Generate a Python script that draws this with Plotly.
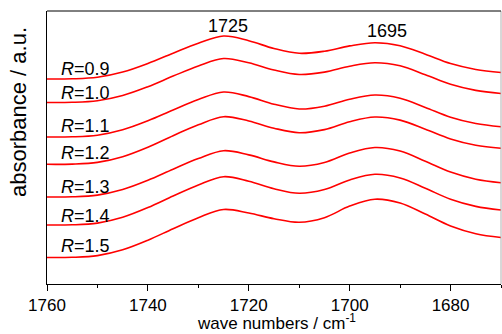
import plotly.graph_objects as go

wavenumbers = [1760, 1755, 1750, 1745, 1740, 1735, 1730, 1725, 1720, 1715,
               1710, 1705, 1700, 1695, 1690, 1685, 1680, 1675, 1670]

r_labels = ["0.9", "1.0", "1.1", "1.2", "1.3", "1.4", "1.5"]

abs_r09 = [2.05, 2.052, 2.067, 2.119, 2.205, 2.308, 2.407, 2.48, 2.433, 2.355,
           2.307, 2.328, 2.381, 2.413, 2.383, 2.297, 2.204, 2.145, 2.115]
abs_r10 = [1.815, 1.817, 1.833, 1.885, 1.973, 2.079, 2.180, 2.255, 2.212, 2.140,
           2.095, 2.119, 2.178, 2.213, 2.182, 2.093, 1.997, 1.936, 1.905]
abs_r11 = [1.47, 1.472, 1.488, 1.542, 1.632, 1.74, 1.844, 1.92, 1.874, 1.798,
           1.75, 1.778, 1.848, 1.89, 1.858, 1.766, 1.668, 1.605, 1.573]
abs_r12 = [1.197, 1.199, 1.216, 1.273, 1.368, 1.483, 1.592, 1.673, 1.630, 1.558,
           1.513, 1.544, 1.623, 1.67, 1.639, 1.548, 1.451, 1.388, 1.357]
abs_r13 = [0.87, 0.872, 0.889, 0.944, 1.037, 1.148, 1.254, 1.333, 1.291, 1.221,
           1.177, 1.215, 1.309, 1.365, 1.330, 1.228, 1.119, 1.048, 1.013]
abs_r14 = [0.59, 0.592, 0.609, 0.667, 0.764, 0.88, 0.991, 1.073, 1.028, 0.953,
           0.907, 0.945, 1.04, 1.097, 1.061, 0.958, 0.847, 0.776, 0.74]
abs_r15 = [0.265, 0.267, 0.284, 0.342, 0.438, 0.553, 0.663, 0.745, 0.710, 0.653,
           0.617, 0.663, 0.779, 0.848, 0.810, 0.699, 0.580, 0.503, 0.465]

series = [abs_r09, abs_r10, abs_r11, abs_r12, abs_r13, abs_r14, abs_r15]

peak_labels = ["1725", "1695"]
peak_positions = [1724.1, 1692.6]

x_ticks = [1760, 1740, 1720, 1700, 1680]

# label placement (layout, not data)
label_x = 1757.6
label_y = [2.152, 1.91, 1.585, 1.312, 0.968, 0.685, 0.377]
peak_label_y = [2.585, 2.53]

FONT = "Liberation Sans, Arial, sans-serif"

fig = go.Figure()
for ys in series:
    fig.add_trace(go.Scatter(
        x=wavenumbers, y=ys, mode="lines",
        line=dict(color="rgb(255,0,0)", width=1.6, shape="spline", smoothing=1.0),
        showlegend=False, hoverinfo="skip"))

annotations = []
for lab, ly in zip(r_labels, label_y):
    annotations.append(dict(
        x=label_x, y=ly, xref="x", yref="y", xanchor="left", yanchor="middle",
        text="<i>R</i>=" + lab, showarrow=False,
        font=dict(family=FONT, size=18, color="black")))
for lab, px, py in zip(peak_labels, peak_positions, peak_label_y):
    annotations.append(dict(
        x=px, y=py, xref="x", yref="y", xanchor="center", yanchor="middle",
        text=lab, showarrow=False,
        font=dict(family=FONT, size=18, color="black")))
annotations.append(dict(
    x=-29 / 454, y=0.63, xref="paper", yref="paper",
    xanchor="center", yanchor="middle", textangle=-90,
    text="absorbance / a.u.", showarrow=False,
    font=dict(family=FONT, size=22, color="black")))
# x-axis title
annotations.append(dict(
    x=0.505, y=-50 / 273, xref="paper", yref="paper",
    xanchor="center", yanchor="bottom", yshift=-1,
    text="wave numbers / cm<sup>-1</sup>", showarrow=False,
    font=dict(family=FONT, size=17, color="black")))

fig.update_layout(
    width=502, height=334,
    margin=dict(l=47, r=1, t=11, b=50),
    paper_bgcolor="white", plot_bgcolor="white",
    font=dict(family=FONT, size=17, color="black"),
    annotations=annotations,
    shapes=[dict(type="line", xref="paper", yref="paper", x0=1, x1=1, y0=0, y1=1,
                 line=dict(color="#b0b0b0", width=1)),
            dict(type="line", xref="paper", yref="paper", x0=0, x1=1, y0=1, y1=1,
                 line=dict(color="black", width=1))],
    xaxis=dict(
        range=[1760, 1670], tickmode="array", tickvals=x_ticks,
        ticks="outside", ticklen=6, tickwidth=1, tickcolor="black",
        minor=dict(dtick=10, tick0=1760, ticks="outside", ticklen=3, tickwidth=1, tickcolor="black"),
        showline=True, linecolor="black", linewidth=1, mirror=False,
        showgrid=False, zeroline=False,
        tickfont=dict(family=FONT, size=17, color="black"),
    ),
    yaxis=dict(
        range=[0, 2.73], showticklabels=False, ticks="",
        showline=True, linecolor="black", linewidth=1,
        showgrid=False, zeroline=False,
    ),
)

fig.write_html("out.html")
